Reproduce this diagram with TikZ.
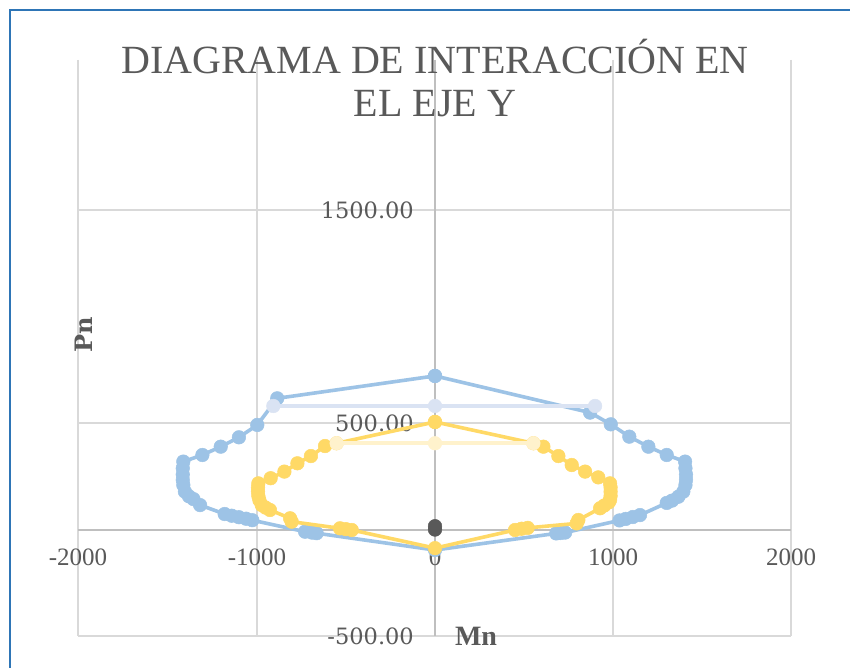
\documentclass[tikz,border=0pt]{standalone}
\usepackage{fontspec}
\setmainfont{Liberation Serif}
\newfontfamily\numfont{DejaVu Serif}
\definecolor{sblue}{HTML}{9DC3E6}
\definecolor{slblue}{HTML}{DAE3F3}
\definecolor{syel}{HTML}{FFD966}
\definecolor{slyel}{HTML}{FFF2CC}
\definecolor{sdark}{HTML}{595959}
\definecolor{gridc}{HTML}{D9D9D9}
\definecolor{axisc}{HTML}{BFBFBF}
\definecolor{txtc}{HTML}{595959}
\definecolor{framec}{HTML}{2E75B6}
\tikzset{
  gridline/.style={gridc, line width=1.2pt},
  axisline/.style={axisc, line width=1.5pt},
  ser/.style={#1, line width=3.6pt, line join=round, mark=*, mark size=6.8pt,
    mark options={fill=#1, draw=#1, line width=0.5pt}},
  xlab/.style={txtc, inner sep=0pt, font=\fontsize{25}{30}\selectfont},
  ylab/.style={txtc, inner sep=0pt, anchor=east, font=\numfont\fontsize{22.5}{27}\selectfont},
  ttl/.style={txtc, inner sep=0pt, anchor=base, font=\fontsize{40}{48}\selectfont},
}
\begin{document}
\begin{tikzpicture}[x=1pt, y=-1pt]
\useasboundingbox (0,0) rectangle (850,668);
\fill[white] (0,0) rectangle (850,668);
% frame
\draw[framec, line width=2pt] (10,668) -- (10,10) -- (850,10);
% grid
\foreach \gx in {78,257,613,791} \draw[gridline] (\gx,60) -- (\gx,636);
\foreach \gy in {210,423,636} \draw[gridline] (78,\gy) -- (791,\gy);
\draw[axisline] (435,60) -- (435,636);
\draw[axisline] (78,530) -- (791,530);
% title
\node[ttl] (t1) at (435,74) {DIAGRAMA DE INTERACCIÓN EN};
\node[ttl] (t2) at (435,117) {EL EJE Y};
% tick labels
\node[xlab] (xm2) at (78,557) {-2000};
\node[xlab] (xm1) at (257,557) {-1000};
\node[xlab] (x0) at (435,557) {0};
\node[xlab] (x1) at (613,557) {1000};
\node[xlab] (x2) at (791,557) {2000};
\node[ylab] (y1500) at (414,210) {1500.00};
\node[ylab] (y500) at (414,423) {500.00};
\node[ylab] (ym500) at (414,636) {-500.00};
% axis titles
\node[txtc, inner sep=0pt, rotate=90, font=\numfont\bfseries\fontsize{24}{28}\selectfont] (pn) at (84,335) {Pn};
\node[txtc, inner sep=0pt, font=\bfseries\fontsize{28}{32}\selectfont] (mn) at (476,636) {Mn};
% data
\begin{scope}[shift={(435,530)}, x=0.17825pt, y=0.2131pt]
\draw[ser=sblue] plot coordinates {(0,723) (-885,618) (-997,493) (-1100,435) (-1202,391) (-1305,352)
 (-1412,321) (-1415,290) (-1415,260) (-1415,235) (-1412,211) (-1403,180) (-1380,158) (-1355,145) (-1318,117)
 (-1180,75) (-1140,67) (-1100,60) (-1060,53) (-1025,46)
 (-729,-8) (-690,-12) (-664,-15) (0,-94)
 (680,-16) (705,-14) (730,-12)
 (1035,45) (1070,52) (1110,61) (1150,70)
 (1300,127) (1330,138) (1365,156) (1393,180) (1405,211) (1408,235) (1408,260) (1405,290) (1403,321)
 (1300,352) (1197,391) (1090,438) (986,496) (870,551) (0,723)};
\draw[ser=slblue] plot coordinates {(-907,582) (0,582) (898,582)};
\draw[ser=syel] plot coordinates {(0,507) (-552,407) (-617,394) (-696,347) (-772,313) (-845,274) (-922,243)
 (-991,219) (-993,200) (-993,180) (-991,160) (-985,140) (-972,117) (-950,105) (-926,94)
 (-813,55) (-804,39) (-533,8) (-500,4) (-467,0) (0,-85)
 (449,0) (486,6) (520,10) (795,31) (804,47) (926,102) (950,115) (975,130)
 (982,141) (985,160) (985,180) (985,200) (982,219) (916,247) (842,274) (767,305) (692,347) (608,391) (552,407) (0,507)};
\draw[ser=slyel] plot coordinates {(-552,407) (0,407) (552,407)};
\draw[ser=sdark] plot coordinates {(0,2) (0,18)};
\end{scope}
\end{tikzpicture}
\end{document}
